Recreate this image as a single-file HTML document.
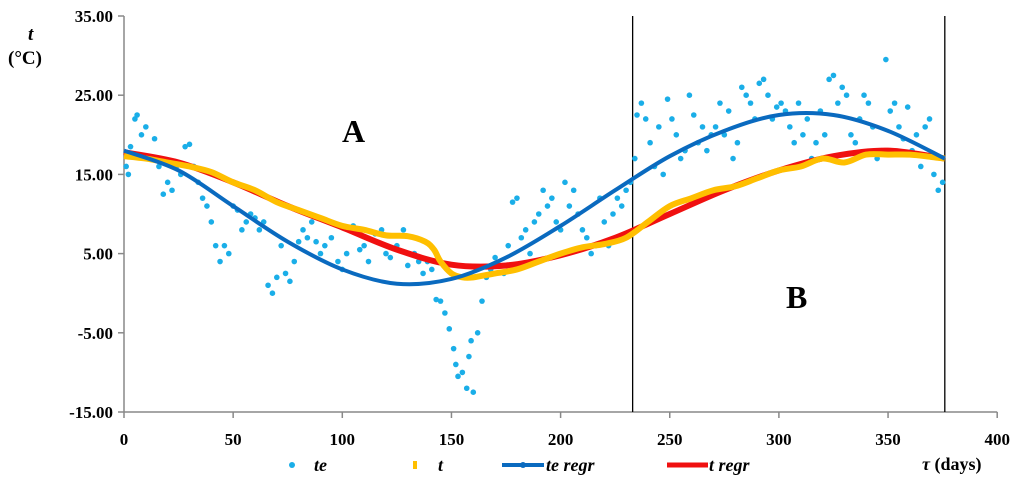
<!DOCTYPE html>
<html><head><meta charset="utf-8"><style>
html,body{margin:0;padding:0;background:#fff;}
svg{display:block;font-family:"Liberation Serif",serif;font-weight:bold;}
</style></head><body>
<svg id="chart" width="1024" height="490" viewBox="0 0 1024 490" xmlns="http://www.w3.org/2000/svg">
<g id="axes"></g>
<g id="marks"></g>
<text x="28" y="40" font-size="19" font-style="italic">t</text>
<text x="8" y="64" font-size="19">(°C)</text>
<text x="342" y="142" font-size="32">A</text>
<text x="786" y="308" font-size="32">B</text>
<text x="922" y="470" font-size="18"><tspan font-style="italic">τ</tspan>  (days)</text>
<g font-size="18" font-style="italic">
 <g><circle cx="292" cy="465" r="3" fill="#1aaee8"/><text x="314" y="471">te</text></g>
 <g><rect x="413" y="461" width="4" height="8" fill="#ffbf00"/><text x="438" y="471">t</text></g>
 <g><line x1="502" y1="465" x2="544" y2="465" stroke="#0a6abf" stroke-width="4"/><circle cx="523" cy="465" r="3" fill="#0a6abf"/><text x="546" y="471">te regr</text></g>
 <g><line x1="667" y1="465" x2="708" y2="465" stroke="#f01010" stroke-width="5"/><text x="709" y="471">t regr</text></g>
</g>
</svg>
<script>
const xTicks=[0,50,100,150,200,250,300,350,400];
const yTicks=[35,25,15,5,-5,-15];
const teDays=[1,2,3,5,6,8,10,12,14,16,18,20,22,24,26,28,30,32,34,36,38,40,42,44,46,48,50,52,54,56,58,60,62,64,66,68,70,72,74,76,78,80,82,84,86,88,90,92,95,98,100,102,105,108,110,112,115,118,120,122,125,128,130,133,135,137,139,141,143,145,147,149,151,152,153,155,157,158,159,160,162,164,166,168,170,172,174,176,178,180,182,184,186,188,190,192,194,196,198,200,202,204,206,208,210,212,214,216,218,220,222,224,226,228,230,232,234,235,237,239,241,243,245,247,249,251,253,255,257,259,261,263,265,267,269,271,273,275,277,279,281,283,285,287,289,291,293,295,297,299,301,303,305,307,309,311,313,315,317,319,321,323,325,327,329,331,333,335,337,339,341,343,345,347,349,351,353,355,357,359,361,363,365,367,369,371,373,375];
const teVals=[16,15,18.5,22,22.5,20,21,17,19.5,16,12.5,14,13,16,15,18.5,18.8,16,14,12,11,9,6,4,6,5,11,10.5,8,9,10,9.5,8,9,1,0,2,6,2.5,1.5,4,6.5,8,7,9,6.5,5,6,7,4,3,5,8.5,5.5,6,4,7.5,8,5,4.5,6,8,3.5,5,4,2.5,4,3,-0.8,-1,-2.5,-4.5,-7,-9,-10.5,-10,-12,-8,-6,-12.5,-5,-1,2,3,4.5,3.5,2.5,6,11.5,12,7,8,5,9,10,13,11,12,9,8,14,11,13,10,8,7,5,6,12,9,6,10,12,11,13,14,17,22.5,24,22,19,16,21,15,24.5,22,20,17,18,25,22.5,19,21,18,20,21,24,20,23,17,19,26,25,24,22,26.5,27,25,22,23.5,24,23,21,19,24,20,22,17,19,23,20,27,27.5,24,26,25,20,19,22,25,24,21,17,18,29.5,23,24,21,19.5,23.5,18,20,16,21,22,15,13,14];
const tDays=[0,10,20,30,40,50,60,70,80,90,100,110,120,130,138,142,145,150,155,160,170,180,190,200,210,220,230,240,250,260,270,280,290,300,310,320,330,340,350,360,370,376];
const tVals=[17.3,17,16.5,16,15.3,14,13,11.5,10.5,9.5,8.5,8,7.3,7.2,6.5,5.5,4,2.5,2,2,2.5,3,4,5,5.8,6.2,7,9,11,12,13,13.5,14.5,15.5,16,17,16.5,17.5,17.5,17.5,17.2,17];
const regDays=[0,25,50,75,100,125,150,175,200,225,250,275,300,325,350,376];
const teRegr=[18,15.5,11,6.5,3,1.2,1.8,4.5,8.5,13,17.3,20.5,22.5,22.5,20.5,17];
const tRegr=[17.8,16.5,14,11,8.3,5.5,3.6,3.5,4.8,7,10,13,15.5,17.3,18,17];
const dividerDays=[233,376];

const X=d=>124+d*2.183;
const Y=v=>412-(v+15)*7.92;
const NS='http://www.w3.org/2000/svg';
function mk(tag,attrs,parent){const e=document.createElementNS(NS,tag);for(const k in attrs)e.setAttribute(k,attrs[k]);parent.appendChild(e);return e;}
const axes=document.getElementById('axes'),marks=document.getElementById('marks');
let l=mk('line',{x1:124,y1:16,x2:124,y2:412,stroke:'#888','stroke-width':1.5},axes);


l=mk('line',{x1:124,y1:412,x2:X(400),y2:412,stroke:'#888','stroke-width':1.5},axes);


yTicks.forEach(v=>{
 mk('line',{x1:118,y1:Y(v),x2:124,y2:Y(v),stroke:'#888','stroke-width':1.5},axes);
 const t=mk('text',{x:113,y:Y(v)+6,'text-anchor':'end','font-size':17},axes);
 t.textContent=v.toFixed(2);
 
 
});
xTicks.forEach(d=>{
 mk('line',{x1:X(d),y1:412,x2:X(d),y2:418,stroke:'#888','stroke-width':1.5},axes);
 const t=mk('text',{x:X(d),y:445,'text-anchor':'middle','font-size':17},axes);
 t.textContent=d;
 
 
});
dividerDays.forEach(d=>{
 const ln=mk('line',{x1:X(d),y1:16,x2:X(d),y2:412,stroke:'#000','stroke-width':1.3},marks);
 
 
});
function smooth(days,vals){
 const p=days.map((d,i)=>[X(d),Y(vals[i])]);
 let s='M'+p[0][0]+','+p[0][1];
 for(let i=0;i<p.length-1;i++){
  const p0=p[i-1]||p[i],p1=p[i],p2=p[i+1],p3=p[i+2]||p2;
  s+=` C${p1[0]+(p2[0]-p0[0])/6},${p1[1]+(p2[1]-p0[1])/6} ${p2[0]-(p3[0]-p1[0])/6},${p2[1]-(p3[1]-p1[1])/6} ${p2[0]},${p2[1]}`;
 }
 return s;
}
teDays.forEach((d,i)=>{
 const c=mk('circle',{cx:X(d),cy:Y(teVals[i]),r:2.8,fill:'#1aaee8'},marks);
 
 
});
let p=mk('path',{d:smooth(regDays,tRegr),fill:'none',stroke:'#f01010','stroke-width':6},marks);


p=mk('path',{d:smooth(tDays,tVals),fill:'none',stroke:'#ffbf00','stroke-width':6},marks);


p=mk('path',{d:smooth(regDays,teRegr),fill:'none',stroke:'#0a6abf','stroke-width':4},marks);


</script>
</body></html>
